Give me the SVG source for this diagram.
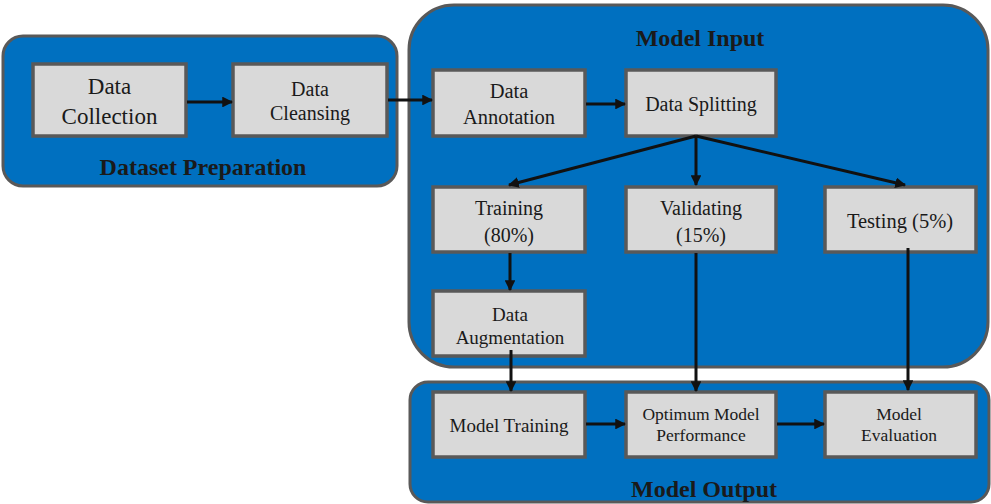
<svg xmlns="http://www.w3.org/2000/svg" width="991" height="504" viewBox="0 0 991 504">
<defs>
<style>
.cont{fill:#0070C0;stroke:#595959;stroke-width:3}
.box{fill:#D9D9D9;stroke:#595959;stroke-width:3.5}
.t{font-family:"Liberation Serif","Times New Roman",serif;fill:#1a1a1a;text-anchor:middle}
.title{font-family:"Liberation Serif","Times New Roman",serif;font-weight:bold;font-size:24px;fill:#1a1a1a;text-anchor:middle}
.ln{stroke:#111;stroke-width:3;fill:none}
</style>
<marker id="ah" viewBox="0 0 10 10" refX="9" refY="5" markerWidth="3.6" markerHeight="3.6" orient="auto" markerUnits="strokeWidth">
<path d="M0,0 L10,5 L0,10 Z" fill="#111"/>
</marker>
</defs>
<rect width="991" height="504" fill="#ffffff"/>

<g id="dataset-preparation">
<rect class="cont" x="3" y="36" width="394" height="150" rx="20" ry="20"/>
<text class="title" x="203" y="175">Dataset Preparation</text>
</g>
<g id="model-input">
<rect class="cont" x="409" y="5" width="579" height="362" rx="45" ry="45"/>
<text class="title" x="700" y="46">Model Input</text>
</g>
<g id="model-output">
<rect class="cont" x="410" y="382" width="579" height="120" rx="18" ry="18"/>
<text class="title" x="704" y="497">Model Output</text>
</g>

<g id="data-collection">
<rect class="box" x="33" y="64" width="153" height="72"/>
<text class="t" font-size="23" x="109.5" y="94">Data</text>
<text class="t" font-size="23" x="109.5" y="124">Collection</text>
</g>
<g id="data-cleansing">
<rect class="box" x="233" y="64" width="154" height="72"/>
<text class="t" font-size="20" x="310" y="96">Data</text>
<text class="t" font-size="20" x="310" y="120">Cleansing</text>
</g>
<g id="data-annotation">
<rect class="box" x="433" y="70" width="152" height="66"/>
<text class="t" font-size="20.5" x="509" y="98">Data</text>
<text class="t" font-size="20.5" x="509" y="124">Annotation</text>
</g>
<g id="data-splitting">
<rect class="box" x="626" y="70" width="150" height="66"/>
<text class="t" font-size="20" x="701" y="111">Data Splitting</text>
</g>
<g id="training">
<rect class="box" x="433" y="187" width="152" height="65"/>
<text class="t" font-size="20" x="509" y="215">Training</text>
<text class="t" font-size="20" x="509" y="242">(80%)</text>
</g>
<g id="validating">
<rect class="box" x="626" y="187" width="150" height="65"/>
<text class="t" font-size="20" x="701" y="215">Validating</text>
<text class="t" font-size="20" x="701" y="242">(15%)</text>
</g>
<g id="testing">
<rect class="box" x="825" y="187" width="151" height="65"/>
<text class="t" font-size="20.5" x="900" y="228">Testing (5%)</text>
</g>
<g id="data-augmentation">
<rect class="box" x="433" y="291" width="152" height="65"/>
<text class="t" font-size="19" x="510" y="321">Data</text>
<text class="t" font-size="19" x="510" y="344">Augmentation</text>
</g>
<g id="model-training">
<rect class="box" x="433" y="392" width="152" height="65"/>
<text class="t" font-size="19" x="509" y="432">Model Training</text>
</g>
<g id="optimum-model-performance">
<rect class="box" x="626" y="392" width="150" height="65"/>
<text class="t" font-size="17.5" x="701" y="420">Optimum Model</text>
<text class="t" font-size="17.5" x="701" y="441">Performance</text>
</g>
<g id="model-evaluation">
<rect class="box" x="825" y="392" width="151" height="65"/>
<text class="t" font-size="17.5" x="899" y="420">Model</text>
<text class="t" font-size="17.5" x="899" y="441">Evaluation</text>
</g>

<g id="connectors">
<line class="ln" x1="187" y1="102" x2="232" y2="102" marker-end="url(#ah)"/>
<line class="ln" x1="388" y1="100" x2="432" y2="100" marker-end="url(#ah)"/>
<line class="ln" x1="586" y1="104" x2="625" y2="104" marker-end="url(#ah)"/>
<line class="ln" x1="696" y1="136" x2="509" y2="185" marker-end="url(#ah)"/>
<line class="ln" x1="696" y1="136" x2="696" y2="185" marker-end="url(#ah)"/>
<line class="ln" x1="696" y1="136" x2="905" y2="185" marker-end="url(#ah)"/>
<line class="ln" x1="510" y1="253" x2="510" y2="290" marker-end="url(#ah)"/>
<line class="ln" x1="511" y1="350" x2="511" y2="391" marker-end="url(#ah)"/>
<line class="ln" x1="696" y1="253" x2="696" y2="391" marker-end="url(#ah)"/>
<line class="ln" x1="908" y1="248" x2="908" y2="390" marker-end="url(#ah)"/>
<line class="ln" x1="586" y1="424" x2="625" y2="424" marker-end="url(#ah)"/>
<line class="ln" x1="777" y1="424" x2="824" y2="424" marker-end="url(#ah)"/>
</g>
</svg>
